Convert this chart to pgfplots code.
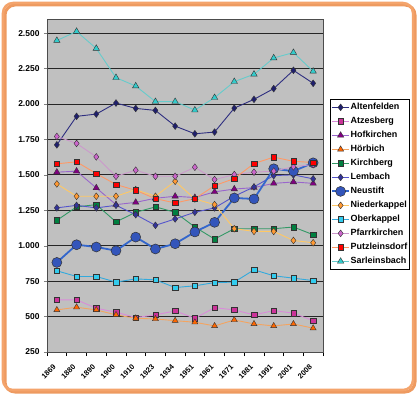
\documentclass[border=0pt]{standalone}
\usepackage{fontspec}
\setmainfont{Liberation Sans}
\usepackage{pgfplots}
\usepackage{pgfplotstable}
\pgfplotsset{compat=1.18}
\definecolor{plotgray}{HTML}{C0C0C0}
\definecolor{bord}{HTML}{F4A46C}
\definecolor{bordsh}{HTML}{EE9A60}
\definecolor{altline}{HTML}{2E2E80}\definecolor{altfill}{HTML}{1F1F6E}
\definecolor{atzline}{HTML}{D98CD9}\definecolor{atzfill}{HTML}{CC3399}
\definecolor{hofline}{HTML}{9966CC}\definecolor{hoffill}{HTML}{800080}
\definecolor{horline}{HTML}{F4A460}\definecolor{horfill}{HTML}{FF6600}
\definecolor{kirline}{HTML}{339966}\definecolor{kirfill}{HTML}{008040}
\definecolor{lemline}{HTML}{5555CC}\definecolor{lemfill}{HTML}{333399}
\definecolor{neuline}{HTML}{3366CC}\definecolor{neufill}{HTML}{3355BB}
\definecolor{nieline}{HTML}{FFC864}\definecolor{niefill}{HTML}{FF9933}
\definecolor{obeline}{HTML}{33AADD}\definecolor{obefill}{HTML}{33CCEE}
\definecolor{pfaline}{HTML}{CC99CC}\definecolor{pfafill}{HTML}{CC66CC}
\definecolor{putline}{HTML}{FF9966}\definecolor{putfill}{HTML}{FF0000}
\definecolor{sarline}{HTML}{66CCCC}\definecolor{sarfill}{HTML}{33CCCC}
\pgfplotstableread{
x    alt  atz  hof  hor  kir  lem  neu  nie  obe  pfa  put  sar
0.5  1712 618  1519 547  1179 1267 882  1436 823  1771 1578 2448
1.5  1913 618  1526 566  1274 1285 1007 1349 783  1722 1592 2512
2.5  1929 559  1408 547  1290 1267 991  1349 783  1627 1509 2392
3.5  2007 531  1290 512  1168 1285 965  1349 743  1490 1432 2186
4.5  1969 493  1306 488  1236 1219 1061 1396 766  1533 1391 2127
5.5  1955 512  1335 483  1274 1144 977  1349 759  1490 1332 2017
6.5  1844 540  1349 471  1236 1189 1014 1455 705  1490 1302 2017
7.5  1790 488  1340 460  1132 1236 1097 1330 717  1554 1332 1957
8.5  1802 563  1380 434  1047 1267 1165 1290 740  1467 1424 2045
9.5  1971 547  1400 476  1120 1349 1337 1120 743  1502 1474 2158
10.5 2033 512  1410 448  1120 1415 1330 1101 830  1519 1580 2210
11.5 2109 542  1440 434  1120 1495 1543 1101 788  1526 1625 2325
12.5 2238 524  1450 448  1132 1500 1526 1037 771  1557 1596 2363
13.5 2146 471  1440 418  1078 1472 1585 1021 754  1573 1587 2231
}\data
\begin{document}
\begin{tikzpicture}[x=1bp,y=1bp]
\useasboundingbox (0,0) rectangle (420,395);
\fill[white] (0,0) rectangle (420,395);
\draw[line width=3bp, bordsh, rounded corners=10bp] (5,3) rectangle (415,390);
\draw[line width=2.5bp, bord, rounded corners=10bp] (3,5) rectangle (413,392);
\begin{axis}[
  at={(47bp,43bp)}, anchor=south west,
  scale only axis, width=276bp, height=333bp,
  xmin=0, xmax=14, ymin=250, ymax=2600,
  ytick={250,500,...,2500},
  xtick={0.5,1.5,...,13.5},
  xticklabels={1869,1880,1890,1900,1910,1923,1934,1951,1961,1971,1981,1991,2001,2008},
  minor xtick={0,1,...,14},
  major x tick style={draw=none},
  minor x tick style={black, line width=0.6bp},
  minor tick length=4bp, major tick length=3bp,
  tick align=outside, xtick pos=bottom, ytick pos=left,
  axis background/.style={fill=plotgray},
  ymajorgrids, major grid style={black!85, line width=0.9bp},
  axis line style={black!70, line width=0.6bp},
  /pgf/number format/1000 sep={.},
  /pgf/number format/assume math mode=true,
  yticklabel style={font=\bfseries\fontsize{8.5}{10}\selectfont, xshift=-1bp},
  xticklabel style={font=\bfseries\fontsize{7.5}{8}\selectfont, rotate=45, anchor=north east, inner sep=0pt, xshift=-9bp, yshift=-3bp},
  legend style={at={(1.0254,0.7598)}, anchor=north west, draw=black, fill=white,
    font=\bfseries\fontsize{9}{10}\selectfont, inner xsep=1bp, inner ysep=1.2bp,
    row sep=0bp, nodes={inner sep=0.6bp, minimum height=14bp}},
  legend cell align=left,
  every axis plot/.append style={line width=0.9bp},
]
\addplot[altline, mark=diamond*, mark size=3.4bp, mark options={fill=altfill, draw=black!80, line width=0.4bp}] table[x=x,y=alt]{\data};
\addlegendentry{Altenfelden}
\addplot[atzline, mark=square*, mark size=2.7bp, mark options={fill=atzfill, draw=black!80, line width=0.4bp}] table[x=x,y=atz]{\data};
\addlegendentry{Atzesberg}
\addplot[hofline, mark=triangle*, mark size=3.7bp, mark options={fill=hoffill, draw=black!80, line width=0.4bp}] table[x=x,y=hof]{\data};
\addlegendentry{Hofkirchen}
\addplot[horline, mark=triangle*, mark size=3.5bp, mark options={fill=horfill, draw=black!80, line width=0.4bp}] table[x=x,y=hor]{\data};
\addlegendentry{Hörbich}
\addplot[kirline, mark=square*, mark size=2.7bp, mark options={fill=kirfill, draw=black!80, line width=0.4bp}] table[x=x,y=kir]{\data};
\addlegendentry{Kirchberg}
\addplot[lemline, mark=diamond*, mark size=3.4bp, mark options={fill=lemfill, draw=black!80, line width=0.4bp}] table[x=x,y=lem]{\data};
\addlegendentry{Lembach}
\addplot[neuline, line width=1.8bp, mark=*, mark size=5bp, mark options={fill=neufill, draw=black!80, line width=0.5bp}] table[x=x,y=neu]{\data};
\addlegendentry{Neustift}
\addplot[nieline, mark=diamond*, mark size=3.4bp, mark options={fill=niefill, draw=black!80, line width=0.4bp}] table[x=x,y=nie]{\data};
\addlegendentry{Niederkappel}
\addplot[obeline, mark=square*, mark size=2.7bp, mark options={fill=obefill, draw=black!80, line width=0.4bp}] table[x=x,y=obe]{\data};
\addlegendentry{Oberkappel}
\addplot[pfaline, mark=diamond*, mark size=3.4bp, mark options={fill=pfafill, draw=black!80, line width=0.4bp}] table[x=x,y=pfa]{\data};
\addlegendentry{Pfarrkirchen}
\addplot[putline, mark=square*, mark size=2.7bp, mark options={fill=putfill, draw=black!80, line width=0.4bp}] table[x=x,y=put]{\data};
\addlegendentry{Putzleinsdorf}
\addplot[sarline, mark=triangle*, mark size=3.7bp, mark options={fill=sarfill, draw=black!80, line width=0.4bp}] table[x=x,y=sar]{\data};
\addlegendentry{Sarleinsbach}
\end{axis}
\end{tikzpicture}
\end{document}
